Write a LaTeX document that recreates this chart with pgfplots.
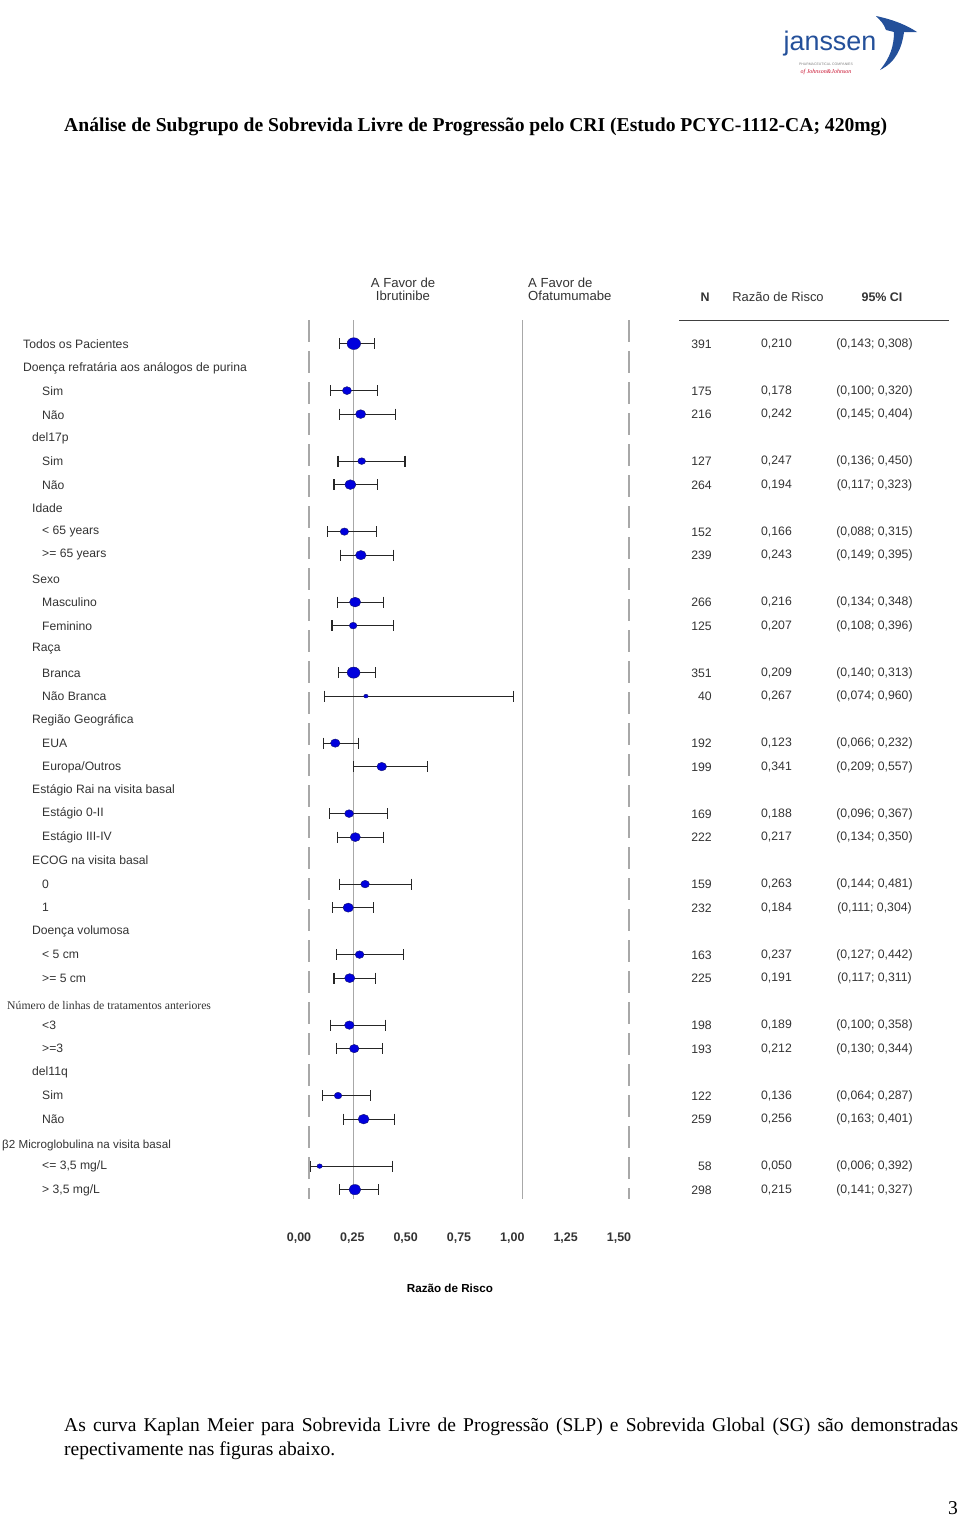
\documentclass[border=0pt]{standalone}
\usepackage{pgfplots}
\pgfplotsset{compat=1.18}
\usepackage{pgfplotstable}
\usepackage{fontspec}
\setmainfont{Liberation Serif}
\newfontfamily\arial{Liberation Sans}
\definecolor{txt}{HTML}{333333}
\definecolor{gline}{HTML}{A8A8A8}
\definecolor{mk}{HTML}{0000DD}
\definecolor{mkd}{HTML}{14146E}
\definecolor{jblue}{HTML}{24509A}
\definecolor{jred}{HTML}{C8102E}

\pgfplotstableread{
row N hr lo hi
1 391 0.210 0.143 0.308
3 175 0.178 0.100 0.320
4 216 0.242 0.145 0.404
6 127 0.247 0.136 0.450
7 264 0.194 0.117 0.323
9 152 0.166 0.088 0.315
10 239 0.243 0.149 0.395
12 266 0.216 0.134 0.348
13 125 0.207 0.108 0.396
15 351 0.209 0.140 0.313
16 40 0.267 0.074 0.960
18 192 0.123 0.066 0.232
19 199 0.341 0.209 0.557
21 169 0.188 0.096 0.367
22 222 0.217 0.134 0.350
24 159 0.263 0.144 0.481
25 232 0.184 0.111 0.304
27 163 0.237 0.127 0.442
28 225 0.191 0.117 0.311
30 198 0.189 0.100 0.358
31 193 0.212 0.130 0.344
33 122 0.136 0.064 0.287
34 259 0.256 0.163 0.401
36 58 0.050 0.006 0.392
37 298 0.215 0.141 0.327
}\fpdata

\newcommand\lab[3]{\node[anchor=west,inner sep=0pt,text=txt,font=\arial\fontsize{12.2}{14}\selectfont] at (#1,#2) {#3};}
\newcommand\rt[4]{%
  \node[anchor=east,inner sep=0pt,text=txt,font=\arial\fontsize{12.3}{14}\selectfont] at (712,{320.5+23.5*#1}) {#2};
  \node[anchor=center,inner sep=0pt,text=txt,font=\arial\fontsize{12.3}{14}\selectfont] at (776.5,{320.5+23.5*#1}) {#3};
  \node[anchor=center,inner sep=0pt,text=txt,font=\arial\fontsize{12.3}{14}\selectfont] at (874.5,{320.5+23.5*#1}) {#4};}

\begin{document}
\begin{tikzpicture}
\path[use as bounding box] (0,0) rectangle (960bp,-1517bp);

\begin{axis}[
  at={(309bp,-1199bp)}, anchor=south west,
  scale only axis, width=320bp, height=878.9bp,
  xmin=0, xmax=1.5, ymin=0, ymax=37.4, y dir=reverse,
  clip=false,
  axis line style={draw=none},
  ytick=\empty,
  xtick={0,0.25,0.5,0.75,1,1.25,1.5},
  xticklabels={{0,00},{0,25},{0,50},{0,75},{1,00},{1,25},{1,50}},
  major tick length=0pt,
  xticklabel style={font=\arial\bfseries\fontsize{12.5}{14}\selectfont, text=txt, xshift=-10bp, yshift=-30bp},
]
\addplot[gline, line width=1.3bp, dash pattern=on 22bp off 9bp] coordinates {(0,0) (0,37.4)};
\addplot[gline, line width=1.3bp, dash pattern=on 22bp off 9bp] coordinates {(1.5,0) (1.5,37.4)};
\addplot[gline, line width=1.3bp] coordinates {(1,0) (1,37.4)};
\addplot[gline, line width=1.3bp] coordinates {(0.210,0) (0.210,37.4)};
% CI lines
\addplot[draw=none, mark=none,
  error bars/.cd, x dir=both, x explicit, error mark=none,
  error bar style={draw=black!85, line width=1.1bp}]
  table[x=hr, y=row, x error plus expr=\thisrow{hi}-\thisrow{hr}, x error minus expr=\thisrow{hr}-\thisrow{lo}] {\fpdata};
% CI caps
\addplot[only marks, mark=|, mark size=5.5bp, mark options={draw=black!85, line width=1.1bp}]
  table[x=lo, y=row] {\fpdata};
\addplot[only marks, mark=|, mark size=5.5bp, mark options={draw=black!85, line width=1.1bp}]
  table[x=hi, y=row] {\fpdata};
% point estimates
\addplot[scatter, only marks, mark=*,
  point meta=\thisrow{N},
  scatter/use mapped color={draw=mkd, fill=mk},
  visualization depends on={0.3*sqrt(\thisrow{N}) \as \msize},
  scatter/@pre marker code/.append style={/tikz/mark size=\msize, /tikz/xscale=1.15}]
  table[x=hr, y=row] {\fpdata};
\end{axis}

\begin{scope}[x=1bp,y=-1bp]
% title
\node[anchor=west,inner sep=0pt,font=\bfseries\fontsize{19.7}{23}\selectfont] at (64,127) {Análise de Subgrupo de Sobrevida Livre de Progressão pelo CRI (Estudo PCYC-1112-CA; 420mg)};
% logo
\node[anchor=center,inner sep=0pt,text=jblue,font=\arial\fontsize{27}{30}\selectfont] at (830,44) {janssen};
\node[anchor=center,inner sep=0pt,text=gray,font=\arial\fontsize{3.5}{4}\selectfont] at (826,64) {PHARMACEUTICAL COMPANIES};
\node[anchor=center,inner sep=0pt,text=jred,font=\itshape\fontsize{6}{7}\selectfont] at (826,72) {of Johnson\&Johnson};
\fill[jblue] (876,16) .. controls (895,20) and (908,26) .. (917,32) -- (904,32) .. controls (902,48) and (896,62) .. (880,70) .. controls (890,58) and (894,46) .. (894,32) -- (886,30) .. controls (884,24) and (880,20) .. (876,16) -- cycle;

% column headers
\node[align=center,inner sep=0pt,text=txt,font=\arial\fontsize{13.2}{13.5}\selectfont] at (403,289.5) {A Favor de\\Ibrutinibe};
\node[align=left,anchor=west,inner sep=0pt,text=txt,font=\arial\fontsize{13.2}{13.5}\selectfont] at (528,289.5) {A Favor de\\Ofatumumabe};
\node[inner sep=0pt,text=txt,font=\arial\bfseries\fontsize{12.5}{14}\selectfont] at (705,297) {N};
\node[inner sep=0pt,text=txt,font=\arial\fontsize{13}{14}\selectfont] at (778,297) {Razão de Risco};
\node[inner sep=0pt,text=txt,font=\arial\bfseries\fontsize{12.5}{14}\selectfont] at (882,297) {95\% CI};
\draw[black!75,line width=1bp] (679,320) -- (949,320);

% left labels
\lab{23}{344}{Todos  os Pacientes}
\lab{23}{368}{Doença refratária aos análogos de purina}
\lab{42}{391}{Sim}
\lab{42}{415}{Não}
\lab{32}{438}{del17p}
\lab{42}{461}{Sim}
\lab{42}{485}{Não}
\lab{32}{508}{Idade}
\lab{42}{532}{< 65 years}
\lab{42}{555}{>= 65 years}
\lab{32}{579}{Sexo}
\lab{42}{602}{Masculino}
\lab{42}{626}{Feminino}
\lab{32}{649}{Raça}
\lab{42}{673}{Branca}
\lab{42}{696}{Não Branca}
\lab{32}{720}{Região Geográfica}
\lab{42}{743}{EUA}
\lab{42}{767}{Europa/Outros}
\lab{32}{790}{Estágio Rai na visita basal}
\lab{42}{813}{Estágio 0-II}
\lab{42}{837}{Estágio III-IV}
\lab{32}{860}{ECOG na visita basal}
\lab{42}{884}{0}
\lab{42}{907}{1}
\lab{32}{931}{Doença volumosa}
\lab{42}{954}{< 5 cm}
\lab{42}{978}{>= 5 cm}
\node[anchor=west,inner sep=0pt,text=txt,font=\fontsize{11.75}{13}\selectfont] at (7,1005) {Número de linhas de tratamentos anteriores};
\lab{42}{1025}{<3}
\lab{42}{1048}{>=3}
\lab{32}{1072}{del11q}
\lab{42}{1095}{Sim}
\lab{42}{1119}{Não}
\node[anchor=west,inner sep=0pt,text=txt,font=\arial\fontsize{11.7}{13}\selectfont] at (2,1145) {β2 Microglobulina na visita basal};
\lab{42}{1166}{<= 3,5 mg/L}
\lab{42}{1190}{> 3,5 mg/L}

% right columns
\rt{1}{391}{0,210}{(0,143; 0,308)}
\rt{3}{175}{0,178}{(0,100; 0,320)}
\rt{4}{216}{0,242}{(0,145; 0,404)}
\rt{6}{127}{0,247}{(0,136; 0,450)}
\rt{7}{264}{0,194}{(0,117; 0,323)}
\rt{9}{152}{0,166}{(0,088; 0,315)}
\rt{10}{239}{0,243}{(0,149; 0,395)}
\rt{12}{266}{0,216}{(0,134; 0,348)}
\rt{13}{125}{0,207}{(0,108; 0,396)}
\rt{15}{351}{0,209}{(0,140; 0,313)}
\rt{16}{40}{0,267}{(0,074; 0,960)}
\rt{18}{192}{0,123}{(0,066; 0,232)}
\rt{19}{199}{0,341}{(0,209; 0,557)}
\rt{21}{169}{0,188}{(0,096; 0,367)}
\rt{22}{222}{0,217}{(0,134; 0,350)}
\rt{24}{159}{0,263}{(0,144; 0,481)}
\rt{25}{232}{0,184}{(0,111; 0,304)}
\rt{27}{163}{0,237}{(0,127; 0,442)}
\rt{28}{225}{0,191}{(0,117; 0,311)}
\rt{30}{198}{0,189}{(0,100; 0,358)}
\rt{31}{193}{0,212}{(0,130; 0,344)}
\rt{33}{122}{0,136}{(0,064; 0,287)}
\rt{34}{259}{0,256}{(0,163; 0,401)}
\rt{36}{58}{0,050}{(0,006; 0,392)}
\rt{37}{298}{0,215}{(0,141; 0,327)}

% axis title
\node[inner sep=0pt,text=black,font=\arial\bfseries\fontsize{11.7}{13}\selectfont] at (450,1288) {Razão de Risco};

% paragraph
\node[anchor=west,inner sep=0pt,font=\fontsize{19.6}{23}\selectfont] at (64,1427) {\makebox[894bp][s]{As curva Kaplan Meier para Sobrevida Livre de Progressão (SLP) e Sobrevida Global (SG) são demonstradas}};
\node[anchor=west,inner sep=0pt,font=\fontsize{19.6}{23}\selectfont] at (64,1451) {repectivamente nas figuras abaixo.};
\node[anchor=center,inner sep=0pt,font=\fontsize{19.6}{23}\selectfont] at (953,1508) {3};
\end{scope}
\end{tikzpicture}
\end{document}
